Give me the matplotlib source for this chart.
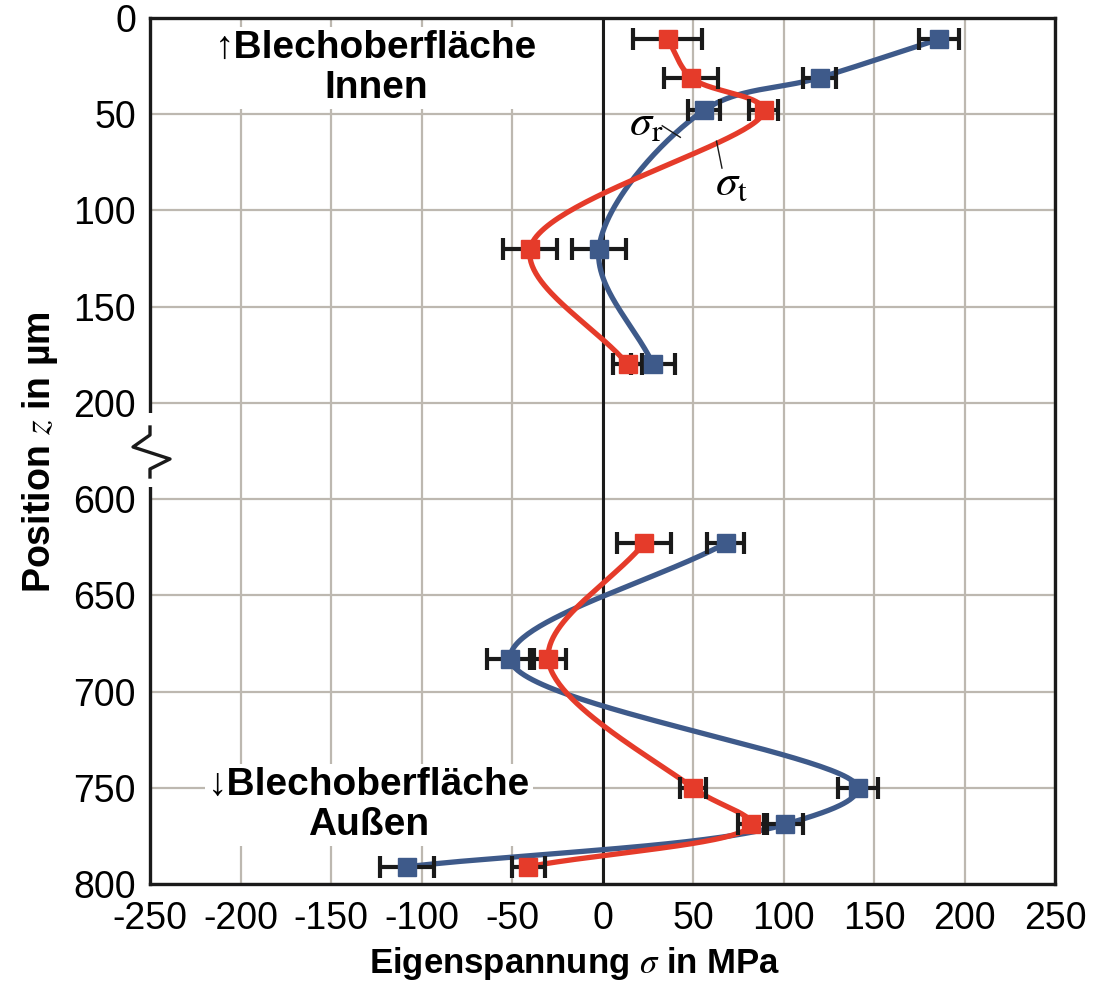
import numpy as np
import matplotlib
matplotlib.use("Agg")
import matplotlib.pyplot as plt
from matplotlib.lines import Line2D
from matplotlib.patches import Rectangle

plt.rcParams['font.family'] = ['Liberation Sans', 'DejaVu Sans']
plt.rcParams['mathtext.fontset'] = 'stix'
plt.rcParams['axes.unicode_minus'] = False

# ---------------- data ----------------
z_top = [11, 31, 48, 120, 180]
z_bot = [623, 683, 750, 769, 791]

sigma_t_top = [36, 49, 89, -40, 14]
sigma_t_top_err = [19, 15, 8, 15, 8]
sigma_t_bot = [23, -30, 50, 82, -41]
sigma_t_bot_err = [15, 10, 7, 7, 9]

sigma_r_top = [186, 120, 56, -2, 28]
sigma_r_top_err = [11, 9, 9, 15, 12]
sigma_r_bot = [68, -51, 141, 101, -108]
sigma_r_bot_err = [10, 13, 11, 10, 15]

x_ticks = [-250, -200, -150, -100, -50, 0, 50, 100, 150, 200, 250]
y_ticks = [0, 50, 100, 150, 200, 600, 650, 700, 750, 800]

RED = '#E53B2A'
BLUE = '#3E5A8A'
GRID = '#BDB8B0'
INK = '#1a1a1a'


# broken axis: 200..600 compressed to one grid step
def fwd(z):
    z = np.asarray(z, dtype=float)
    return np.where(z <= 200, z,
                    np.where(z < 600, 200 + (z - 200) * 50.0 / 400.0, z - 350))


def inv(u):
    u = np.asarray(u, dtype=float)
    return np.where(u <= 200, u,
                    np.where(u < 250, 200 + (u - 200) * 8.0, u + 350))


SX, SY = 1.808, 1.924  # approx. display pixels per data unit


def smooth_curve(xs, zs, n=60, alpha=0.5):
    """Centripetal Catmull-Rom smoothing drawn as cubic Bezier segments."""
    P = np.column_stack([np.asarray(xs, float) * SX, fwd(zs) * SY])
    P = np.vstack([2 * P[0] - P[1], P, 2 * P[-1] - P[-2]])
    out = []
    t = np.linspace(0, 1, n)[:, None]
    for i in range(1, len(P) - 2):
        P0, P1, P2, P3 = P[i - 1], P[i], P[i + 1], P[i + 2]
        d1 = np.linalg.norm(P1 - P0) ** alpha
        d2 = np.linalg.norm(P2 - P1) ** alpha
        d3 = np.linalg.norm(P3 - P2) ** alpha
        m1 = (P1 - P0) / d1 - (P2 - P0) / (d1 + d2) + (P2 - P1) / d2
        m2 = (P2 - P1) / d2 - (P3 - P1) / (d2 + d3) + (P3 - P2) / d3
        b0, b3 = P1, P2
        b1 = P1 + m1 * d2 / 3.0
        b2 = P2 - m2 * d2 / 3.0
        seg = ((1 - t) ** 3) * b0 + 3 * ((1 - t) ** 2) * t * b1 + 3 * (1 - t) * t ** 2 * b2 + t ** 3 * b3
        out.append(seg if i == 1 else seg[1:])
    out = np.vstack(out)
    return out[:, 0] / SX, inv(out[:, 1] / SY)


fig = plt.figure(figsize=(11.14, 9.92), dpi=100)
ax = fig.add_axes([150 / 1114, 1 - 884 / 992, 905 / 1114, 866 / 992])
ax.set_yscale('function', functions=(fwd, inv))
ax.set_xlim(-250, 250)
ax.set_ylim(800, 0)

ax.set_xticks(x_ticks)
ax.set_yticks(y_ticks)
ax.tick_params(axis='both', length=0, labelsize=27)
ax.tick_params(axis='x', pad=12)
ax.tick_params(axis='y', pad=10)
ax.grid(True, color=GRID, lw=1.6, zorder=0)
ax.set_axisbelow(True)
for s in ax.spines.values():
    s.set_linewidth(2.4)
    s.set_color(INK)
ax.axvline(0, color=INK, lw=2.2, zorder=1)

# curves
for zs, vals, col, zo in [(z_top, sigma_r_top, BLUE, 2), (z_bot, sigma_r_bot, BLUE, 2),
                          (z_top, sigma_t_top, RED, 2.1), (z_bot, sigma_t_bot, RED, 2.1)]:
    cx, cz = smooth_curve(vals, zs)
    ax.plot(cx, cz, color=col, lw=3.8, zorder=zo, solid_capstyle='round')

# error bars + markers
for zs, vals, errs, col in [(z_top, sigma_r_top, sigma_r_top_err, BLUE),
                            (z_bot, sigma_r_bot, sigma_r_bot_err, BLUE),
                            (z_top, sigma_t_top, sigma_t_top_err, RED),
                            (z_bot, sigma_t_bot, sigma_t_bot_err, RED)]:
    ax.errorbar(vals, zs, xerr=errs, fmt='none', ecolor=INK, elinewidth=3,
                capsize=8, capthick=3, zorder=3)
    ax.plot(vals, zs, 's', color=col, ms=13, mec=col, zorder=4, linestyle='none')

# labels
ax.set_xlabel('Eigenspannung $\\sigma$ in MPa', fontsize=25, fontweight='bold')
ax.xaxis.set_label_coords((575 - 150) / 905, -(945 - 884) / 866)
ax.set_ylabel('Position $z$ in µm', fontsize=27, fontweight='bold')
ax.yaxis.set_label_coords(-(150 - 60) / 905, (884 - 452) / 866)

bbox = dict(boxstyle='square,pad=0.08', fc='white', ec='none')
ax.text(-125, 26, '↑Blechoberfläche\nInnen', fontsize=28, fontweight='bold',
        ha='center', va='center', linespacing=1.12, bbox=bbox, zorder=1.5)
ax.text(-129, 759, '↓Blechoberfläche\nAußen', fontsize=28, fontweight='bold',
        ha='center', va='center', linespacing=1.12, bbox=bbox, zorder=1.5)

# sigma annotations
ax.text(24, 55, '$\\sigma_{\\mathrm{r}}$', fontsize=32, ha='center', va='center', zorder=5)
ax.plot([33, 43], [56, 62], color=INK, lw=1.0, zorder=5)
ax.text(71, 86, '$\\sigma_{\\mathrm{t}}$', fontsize=32, ha='center', va='center', zorder=5)
ax.plot([63, 66], [64, 78], color=INK, lw=1.0, zorder=5)


# axis break symbol on left spine (pixel coords -> axes fraction)
def fx(px):
    return (px - 150) / 905.0


def fy(py):
    return (884 - py) / 866.0


ax.add_patch(Rectangle((fx(140), fy(487)), fx(160) - fx(140), fy(413) - fy(487),
                       transform=ax.transAxes, fc='white', ec='none',
                       clip_on=False, zorder=10))
zig_x = [150, 150, 133, 170, 150, 150]
zig_y = [427, 435, 447, 459, 469, 477]
ax.add_line(Line2D([fx(v) for v in zig_x], [fy(v) for v in zig_y],
                   transform=ax.transAxes, color=INK, lw=2.4,
                   clip_on=False, zorder=11))

fig.savefig('out.png', dpi=100)
